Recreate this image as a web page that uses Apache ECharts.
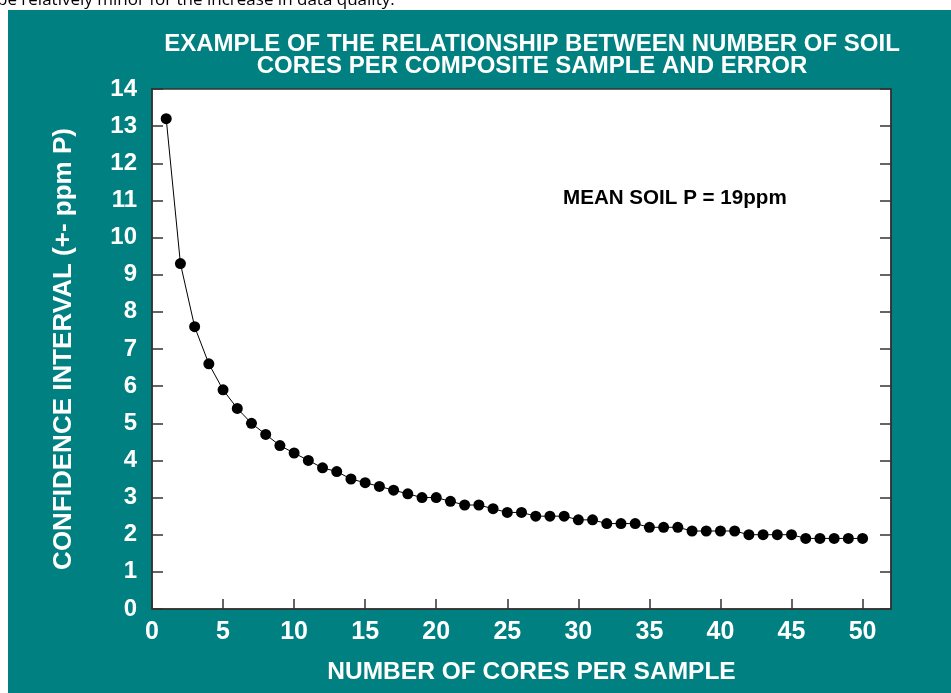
<!DOCTYPE html>
<html>
<head>
<meta charset="utf-8">
<style>
html,body{margin:0;padding:0;background:#fff;}
#chart{width:951px;height:693px;}
</style>
<script src="https://cdn.jsdelivr.net/npm/echarts@6/dist/echarts.min.js"></script>
</head>
<body>
<div id="chart"></div>
<script>
// Data
const cores = [1,2,3,4,5,6,7,8,9,10,11,12,13,14,15,16,17,18,19,20,21,22,23,24,25,26,27,28,29,30,31,32,33,34,35,36,37,38,39,40,41,42,43,44,45,46,47,48,49,50];
const confInterval = [13.2,9.3,7.6,6.6,5.9,5.4,5.0,4.7,4.4,4.2,4.0,3.8,3.7,3.5,3.4,3.3,3.2,3.1,3.0,3.0,2.9,2.8,2.8,2.7,2.6,2.6,2.5,2.5,2.5,2.4,2.4,2.3,2.3,2.3,2.2,2.2,2.2,2.1,2.1,2.1,2.1,2.0,2.0,2.0,2.0,1.9,1.9,1.9,1.9,1.9];
const titleLines = ['EXAMPLE OF THE RELATIONSHIP BETWEEN NUMBER OF SOIL', 'CORES PER COMPOSITE SAMPLE AND ERROR'];
const xName = 'NUMBER OF CORES PER SAMPLE';
const yName = 'CONFIDENCE INTERVAL (+- ppm P)';
const note = 'MEAN SOIL P = 19ppm';
const topText = 'be relatively minor for the increase in data quality.';

const points = cores.map((c, i) => [c, confInterval[i]]);
const FONT = 'Arial, "Liberation Sans", sans-serif';
const tickStyle = {color: '#333', width: 1.5};

const chart = echarts.init(document.getElementById('chart'));
chart.setOption({
  backgroundColor: '#fff',
  animation: false,
  title: {
    text: titleLines.join('\n'),
    left: 527,
    textAlign: 'center',
    top: 29,
    textStyle: {color: '#fff', fontFamily: FONT, fontWeight: 'bold', fontSize: 24, lineHeight: 21.6}
  },
  graphic: [
    {type: 'rect', z: -10, silent: true, shape: {x: 8, y: 10, width: 943, height: 683}, style: {fill: '#008080'}},
    {type: 'text', z: 5, left: -3, top: -8, style: {text: topText, fill: '#000', font: '17px "Open Sans", sans-serif'}},
    {type: 'text', z: 5, left: 563, top: 188, style: {text: note, fill: '#000', font: 'bold 20.6px Arial, "Liberation Sans", sans-serif'}}
  ],
  grid: {
    left: 152, right: 60, top: 89, bottom: 84,
    show: true, backgroundColor: '#fff', borderColor: '#333', borderWidth: 1.5
  },
  xAxis: {
    type: 'value', min: 0, max: 52, interval: 5,
    name: xName, nameLocation: 'middle', nameGap: 51,
    nameTextStyle: {color: '#fff', fontFamily: FONT, fontWeight: 'bold', fontSize: 24.5, padding: [0, 0, 0, 20]},
    axisLine: {show: true, lineStyle: {color: '#333', width: 1.5}},
    axisTick: {show: true, inside: true, length: 10, lineStyle: tickStyle},
    axisLabel: {color: '#fff', fontFamily: FONT, fontWeight: 'bold', fontSize: 25, margin: 11, showMaxLabel: false},
    splitLine: {show: false}
  },
  yAxis: [
    {
      type: 'value', min: 0, max: 14, interval: 1,
      name: yName, nameLocation: 'middle', nameGap: 75, nameRotate: 90,
      nameTextStyle: {color: '#fff', fontFamily: FONT, fontWeight: 'bold', fontSize: 26},
      axisLine: {show: true, lineStyle: {color: '#333', width: 1.5}},
      axisTick: {show: true, inside: true, length: 11, lineStyle: tickStyle},
      axisLabel: {color: '#fff', fontFamily: FONT, fontWeight: 'bold', fontSize: 24, margin: 15},
      splitLine: {show: false}
    },
    {
      type: 'value', min: 0, max: 14, interval: 1, position: 'right',
      axisLine: {show: true, lineStyle: {color: '#333', width: 1.5}},
      axisTick: {show: true, inside: true, length: 11, lineStyle: tickStyle},
      axisLabel: {show: false},
      splitLine: {show: false}
    }
  ],
  series: [{
    type: 'line',
    data: points,
    symbol: 'circle',
    symbolSize: 11,
    itemStyle: {color: '#000'},
    lineStyle: {color: '#000', width: 1},
    z: 3
  }]
});
</script>
</body>
</html>
